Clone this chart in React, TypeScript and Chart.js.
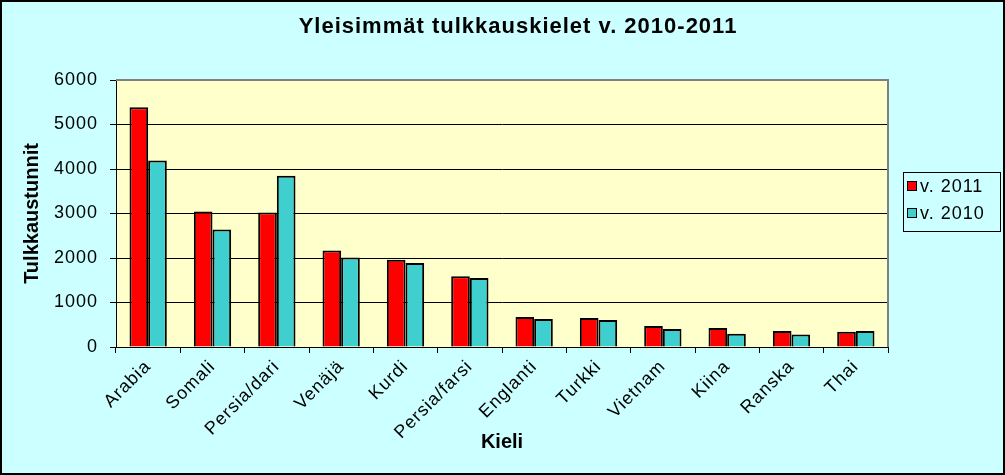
import React, { useEffect, useRef } from "react";
import { Chart, registerables } from "chart.js";

Chart.register(...registerables);

// data
const categories = [
  "Arabia",
  "Somali",
  "Persia/dari",
  "Venäjä",
  "Kurdi",
  "Persia/farsi",
  "Englanti",
  "Turkki",
  "Vietnam",
  "Kiina",
  "Ranska",
  "Thai",
];
const series2011 = [5390, 3045, 3025, 2170, 1960, 1590, 675, 650, 470, 425, 360, 340];
const series2010 = [4190, 2640, 3850, 2010, 1885, 1550, 630, 605, 405, 300, 280, 360];
const yTicks = [0, 1000, 2000, 3000, 4000, 5000, 6000];

const chartTitle = "Yleisimmät tulkkauskielet v. 2010-2011";
const xTitle = "Kieli";
const yTitle = "Tulkkaustunnit";

const FONT = "'Liberation Sans', Arial, sans-serif";

// backgrounds, titles, plot frame and legend drawn like the old Excel chart
const excelLook = {
  id: "excelLook",
  beforeDraw(chart: any) {
    const { ctx, width, height, chartArea } = chart;
    ctx.save();
    ctx.fillStyle = "#CCFFFF";
    ctx.fillRect(0, 0, width, height);
    ctx.fillStyle = "#FFFFCC";
    ctx.fillRect(chartArea.left, chartArea.top, chartArea.right - chartArea.left, chartArea.bottom - chartArea.top);
    ctx.restore();
    // the old chart's text is a bit wider, spread the tick labels out
    ctx.letterSpacing = "1px";
  },
  afterDraw(chart: any) {
    const { ctx, width, height, chartArea } = chart;
    ctx.save();
    // grey frame on top and right of plot area
    ctx.strokeStyle = "#808080";
    ctx.lineWidth = 2;
    ctx.beginPath();
    ctx.moveTo(chartArea.left, chartArea.top);
    ctx.lineTo(chartArea.right, chartArea.top);
    ctx.lineTo(chartArea.right, chartArea.bottom);
    ctx.stroke();

    // outer border
    ctx.strokeStyle = "#000000";
    ctx.lineWidth = 2;
    ctx.strokeRect(1, 1, width - 2, height - 2);

    // titles
    ctx.fillStyle = "#000000";
    ctx.textAlign = "center";
    ctx.textBaseline = "alphabetic";
    ctx.letterSpacing = "1px";
    ctx.font = `bold 22px ${FONT}`;
    ctx.fillText(chartTitle, 518, 33);
    ctx.letterSpacing = "0px";
    ctx.font = `bold 20px ${FONT}`;
    ctx.textBaseline = "middle";
    ctx.fillText(xTitle, (chartArea.left + chartArea.right) / 2, 442);
    ctx.save();
    ctx.translate(32, (chartArea.top + chartArea.bottom) / 2);
    ctx.rotate(-Math.PI / 2);
    ctx.fillText(yTitle, 0, 0);
    ctx.restore();

    // legend
    const lx = 903;
    const ly = 172;
    const lw = 97;
    const lh = 59;
    ctx.fillStyle = "#CCFFFF";
    ctx.fillRect(lx, ly, lw, lh);
    ctx.strokeStyle = "#000000";
    ctx.lineWidth = 1;
    ctx.strokeRect(lx + 0.5, ly + 0.5, lw, lh);
    ctx.font = `18px ${FONT}`;
    ctx.letterSpacing = "1px";
    ctx.textAlign = "left";
    ctx.textBaseline = "middle";
    chart.data.datasets.forEach((ds: any, i: number) => {
      const cy = ly + 14 + i * 27;
      ctx.fillStyle = ds.backgroundColor;
      ctx.fillRect(lx + 4, cy - 5, 10, 10);
      ctx.strokeStyle = "#000000";
      ctx.strokeRect(lx + 4.5, cy - 4.5, 9, 9);
      ctx.fillStyle = "#000000";
      ctx.fillText(ds.label, lx + 17, cy + 1);
    });
    ctx.restore();
    ctx.letterSpacing = "0px";
  },
};

export default function App() {
  const canvasRef = useRef<HTMLCanvasElement>(null);

  useEffect(() => {
    document.body.style.margin = "0";
    if (!canvasRef.current) return;

    const chart = new Chart(canvasRef.current, {
      type: "bar",
      data: {
        labels: categories,
        datasets: [
          {
            label: "v. 2011",
            data: series2011,
            backgroundColor: "#FF0000",
            borderColor: "#000000",
            borderWidth: 2,
          },
          {
            label: "v. 2010",
            data: series2010,
            backgroundColor: "#3FCFCF",
            borderColor: "#000000",
            borderWidth: 2,
          },
        ],
      },
      options: {
        responsive: false,
        animation: false,
        devicePixelRatio: 1,
        layout: { padding: { left: 0, right: 117, top: 80, bottom: 0 } },
        datasets: {
          bar: { categoryPercentage: 0.58, barPercentage: 1 },
        },
        plugins: {
          legend: { display: false },
          tooltip: { enabled: false },
          title: { display: false },
        },
        scales: {
          x: {
            afterFit: (scale: any) => {
              scale.height = 128;
            },
            grid: {
              display: true,
              drawOnChartArea: false,
              tickLength: 6,
              color: "#000000",
            },
            border: { display: true, color: "#000000", width: 1 },
            ticks: {
              color: "#000000",
              font: { family: FONT, size: 18 },
              minRotation: 45,
              maxRotation: 45,
              padding: 3,
              autoSkip: false,
            },
          },
          y: {
            min: yTicks[0],
            max: yTicks[yTicks.length - 1],
            afterFit: (scale: any) => {
              scale.width = 116;
            },
            afterBuildTicks: (scale: any) => {
              scale.ticks = yTicks.map((v) => ({ value: v }));
            },
            grid: {
              color: "#000000",
              lineWidth: 1,
              tickLength: 6,
            },
            border: { display: true, color: "#000000", width: 1 },
            ticks: {
              color: "#000000",
              font: { family: FONT, size: 18 },
              padding: 12,
              callback: (v: any) => String(v),
            },
          },
        },
      },
      plugins: [excelLook],
    });

    return () => {
      chart.destroy();
    };
  }, []);

  return (
    <div style={{ width: 1005, height: 475 }}>
      <canvas ref={canvasRef} width={1005} height={475} />
    </div>
  );
}
